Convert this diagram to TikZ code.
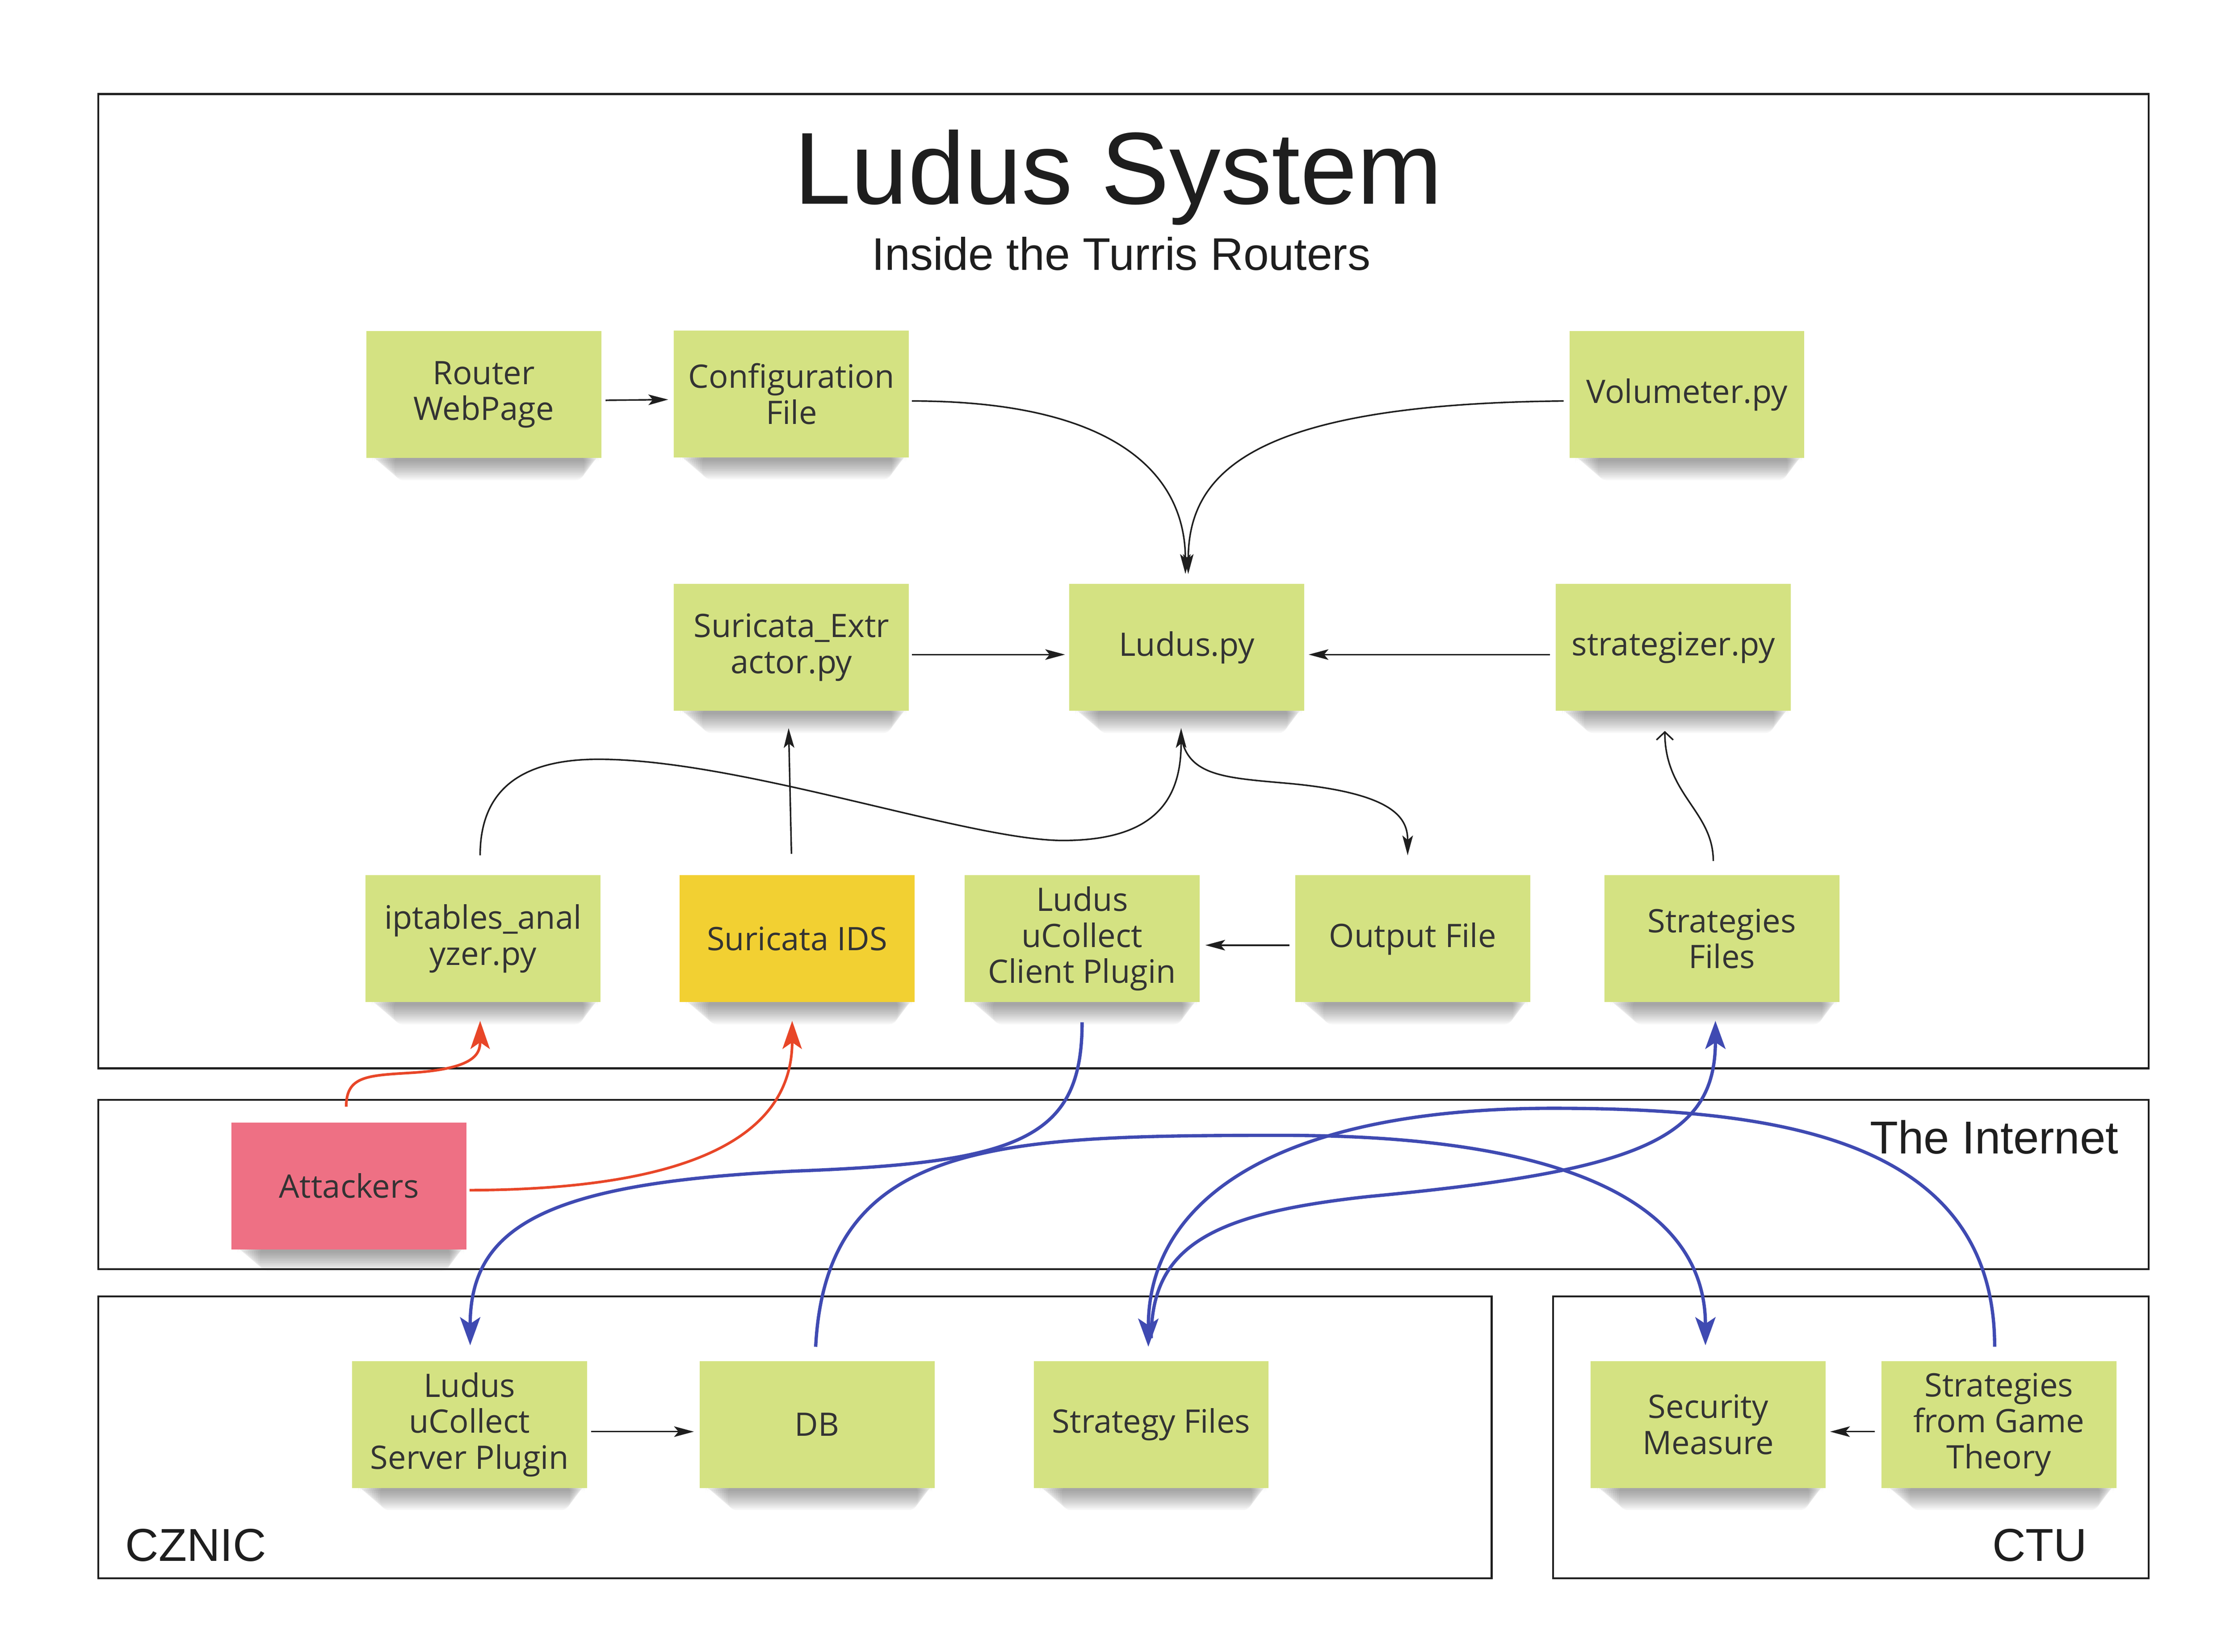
\documentclass[tikz,border=0pt]{standalone}
\usepackage{fontspec}
\setmainfont{Open Sans}
\newfontfamily\titlefont{Liberation Sans}
\usetikzlibrary{arrows.meta,calc}
\pgfdeclarelayer{bg}
\pgfsetlayers{bg,main}
\definecolor{notegreen}{HTML}{D4E282}
\definecolor{noteyellow}{HTML}{F2D032}
\definecolor{notepink}{HTML}{EE7084}
\definecolor{txtgray}{HTML}{333333}
\definecolor{redarr}{HTML}{E84628}
\definecolor{bluearr}{HTML}{3F4AB2}
\definecolor{framecol}{HTML}{1E1E1E}
\tikzset{
  sticky/.style={fill=notegreen, minimum width=535pt, minimum height=289pt, inner sep=0pt,
    align=center, text=txtgray, font=\fontsize{73.6}{82}\selectfont},
  frame/.style={draw=framecol, line width=4.5pt},
  lbl/.style={inner sep=0pt, text=framecol, font=\titlefont\fontsize{105}{105}\selectfont},
  blk/.style={draw=framecol, line width=3.5pt, -{Stealth[length=45pt,width=24pt,inset=10pt]}},
  openarr/.style={draw=framecol, line width=3.5pt, -{Straight Barb[length=18pt,width=38pt,line width=3.5pt]}},
  redconn/.style={draw=redarr, line width=6pt, -{Stealth[length=64pt,width=44pt,inset=15pt]}},
  blueconn/.style={draw=bluearr, line width=7.5pt, -{Stealth[length=64pt,width=46pt,inset=15pt]}},
}
\begin{document}
\begin{tikzpicture}[x=3.2443pt, y=-3.2443pt]
\useasboundingbox (0,0) rectangle (1568,1159.6);

% frames
\draw[frame] (69,66) rectangle (1508,750);
\draw[frame] (69,772) rectangle (1508,891);
\draw[frame] (69,910) rectangle (1047,1108);
\draw[frame] (1090,910) rectangle (1508,1108);

% titles and labels
\node[inner sep=0pt, text=framecol, anchor=base, font=\titlefont\fontsize{233}{233}\selectfont] (title) at (785,143.3) {Ludus System};
\node[inner sep=0pt, text=framecol, anchor=base, font=\titlefont\fontsize{104}{104}\selectfont] (subtitle) at (787,189.6) {Inside the Turris Routers};
\node[lbl, anchor=base east] (inet) at (1487,810) {The Internet};
\node[lbl, anchor=base west] (cznic) at (88,1096) {CZNIC};
\node[lbl, anchor=base east] (ctu) at (1465,1096) {CTU};

% sticky notes
\node[sticky] (rw) at (339.5,277) {Router\\WebPage};
\node[sticky] (cf) at (555.5,276.5) {Configuration\\File};
\node[sticky] (vol) at (1184,277) {Volumeter.py};
\node[sticky] (se) at (555.5,454.5) {Suricata\_Extr\\actor.py};
\node[sticky] (lp) at (833,454.5) {Ludus.py};
\node[sticky] (sg) at (1174.5,454.5) {strategizer.py};
\node[sticky] (ipt) at (339,659) {iptables\_anal\\yzer.py};
\node[sticky, fill=noteyellow] (ids) at (559.5,659) {Suricata IDS};
\node[sticky] (ucc) at (759.5,659) {Ludus\\uCollect\\Client Plugin};
\node[sticky] (of) at (991.5,659) {Output File};
\node[sticky] (sfs) at (1208.5,659) {Strategies\\Files};
\node[sticky, fill=notepink] (att) at (245,832.5) {Attackers};
\node[sticky] (ucs) at (329.5,1000) {Ludus\\uCollect\\Server Plugin};
\node[sticky] (db) at (573.5,1000) {DB};
\node[sticky] (sf) at (808,1000) {Strategy Files};
\node[sticky] (sm) at (1199,1000) {Security\\Measure};
\node[sticky] (gt) at (1403,1000) {Strategies\\from Game\\Theory};

% soft shadows
\begin{pgfonlayer}{bg}
\foreach \n in {rw,cf,vol,se,lp,sg,ipt,ids,ucc,of,sfs,att,ucs,db,sf,sm,gt}{
  \foreach \i in {1,...,12}{
    \fill[black, opacity=0.035, rounded corners=20pt]
      ($(\n.south west)+(3+\i*1.4,-3)$) rectangle ($(\n.south east)+(-1-\i*0.9,1+\i*1.2)$);
  }
}
\end{pgfonlayer}

% black connectors
\draw[blk] ($(rw.east)+(3,4)$) -- ($(cf.west)+(-4,4)$);
\draw[blk] ($(cf.east)+(2,5)$) .. controls +(140,0) and +(0,-72) .. ($(lp.north)+(-1,-7)$);
\draw[blk] ($(vol.west)+(-4,4.5)$) .. controls +(-217,2) and +(0,-72) .. ($(lp.north)+(1,-7)$);
\draw[blk] ($(se.east)+(2,5)$) -- ($(lp.west)+(-3,5)$);
\draw[blk] ($(sg.west)+(-4,5)$) -- ($(lp.east)+(3,5)$);
\draw[blk] ($(ipt.north)+(-2,-14)$) .. controls (337,555) and (365,533) .. (420,533)
   .. controls (520,533) and (680,590) .. (746,590)
   .. controls (812,590) and (829,560) .. ($(lp.south)+(-4,12)$);
\draw[blk] ($(lp.south)+(-4,18)$) .. controls (834,545) and (860,546) .. (905,550)
   .. controls (980,557) and (988,575) .. ($(of.north)+(-3.5,-14)$);
\draw[blk] ($(ids.north)+(-4,-15)$) -- ($(se.south)+(-2,12)$);
\draw[openarr] ($(sfs.north)+(-6,-10)$) .. controls +(0,-35) and +(0,45) .. ($(sg.south)+(-6,14)$);
\draw[blk] ($(of.west)+(-4,4.5)$) -- ($(ucc.east)+(4,4.5)$);
\draw[blk] ($(gt.west)+(-4.5,5)$) -- ($(sm.east)+(3,5)$);
\draw[blk] ($(ucs.east)+(3,5)$) -- ($(db.west)+(-4,5)$);

% red connectors
\draw[redconn] ($(att.north)+(-2,-11)$) .. controls (243,755) and (258,755) .. (290,753)
   .. controls (333,750) and (337,740) .. ($(ipt.south)+(-2,13)$);
\draw[redconn] ($(att.east)+(2,3)$) .. controls (480,835) and (556,800) .. ($(ids.south)+(-3.5,13)$);

% blue connectors
\draw[blueconn] ($(ucc.south)+(0,14)$) .. controls (759.5,800) and (715,816) .. (560,822)
   .. controls (385,830) and (330,860) .. ($(ucs.north)+(0.5,-11)$);
\draw[blueconn] ($(db.north)+(-1,-10)$) .. controls (580,800) and (700,797) .. (900,797)
   .. controls (1130,797) and (1197,860) .. ($(sm.north)+(-2,-11)$);
\draw[blueconn] ($(gt.north)+(-3,-10)$) .. controls (1400,800) and (1250,778) .. (1090,778)
   .. controls (900,778) and (806,840) .. ($(sf.north)+(-2,-10)$);
\draw[blueconn] ($(sf.north)+(0,-16)$) .. controls (808,875) and (850,852) .. (960,840)
   .. controls (1150,822) and (1204,800) .. ($(sfs.south)+(-4.5,13)$);
\end{tikzpicture}
\end{document}
